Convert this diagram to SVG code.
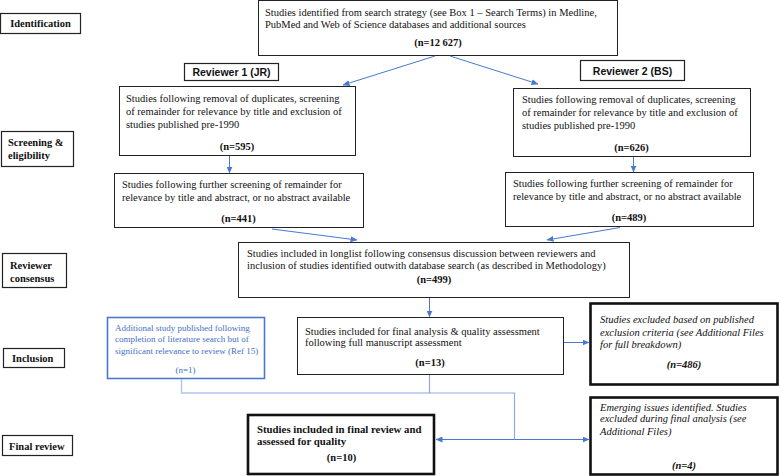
<svg xmlns="http://www.w3.org/2000/svg" width="779" height="476" viewBox="0 0 779 476">
<style>
.bx{fill:#fff;stroke:#222;stroke-width:1}
.bk{fill:#fff;stroke:#111;stroke-width:2.6}
.bl{fill:#fff;stroke:#4a78d0;stroke-width:1.6}
.lb{fill:#fff;stroke:#222;stroke-width:1.2}
.t{font-family:"Liberation Serif","Times New Roman",serif;font-size:10.5px;fill:#111}
.b{font-weight:bold}
.i{font-style:italic}
.c{text-anchor:middle}
.tb{font-family:"Liberation Serif","Times New Roman",serif;font-size:9px;fill:#3f6fc9}
.rv{font-family:"Liberation Sans",Arial,sans-serif;font-size:10.5px;font-weight:bold;fill:#111}
.cn{fill:none;stroke:#4a78d0;stroke-width:1}
.cl{fill:none;stroke:#8eaae2;stroke-width:1.2}
.cx{fill:none;stroke:#b0c4ec;stroke-width:1.4}
</style>
<defs>
<marker id="ah" markerWidth="7" markerHeight="6" refX="6.5" refY="3" orient="auto" markerUnits="userSpaceOnUse">
<path d="M0,0 L7,3 L0,6 z" fill="#4a78d0"/>
</marker>
</defs>

<g id="stage-identification"><rect class="lb" x="0.5" y="13.5" width="80" height="20"/><text class="t b c" x="40.5" y="27">Identification</text></g>
<g id="stage-screening"><rect class="lb" x="1.5" y="131.5" width="72" height="35"/><text class="t b" x="8" y="145.5">Screening &amp;</text><text class="t b" x="8" y="158.5">eligibility</text></g>
<g id="stage-consensus"><rect class="lb" x="2.5" y="253.5" width="64" height="34"/><text class="t b" x="10" y="268.5">Reviewer</text><text class="t b" x="10" y="281.5">consensus</text></g>
<g id="stage-inclusion"><rect class="lb" x="3.5" y="348.5" width="61" height="19"/><text class="t b" x="12" y="361.5">Inclusion</text></g>
<g id="stage-final"><rect class="lb" x="2.5" y="435.5" width="70" height="20"/><text class="t b" x="9" y="449.5">Final review</text></g>

<g id="reviewer1"><rect class="lb" x="184.5" y="63.5" width="94" height="17"/><text class="rv c" x="231.5" y="76">Reviewer 1 (JR)</text></g>
<g id="reviewer2"><rect class="lb" x="580.5" y="60.5" width="104" height="20"/><text class="rv c" x="632.5" y="74.5">Reviewer 2 (BS)</text></g>

<g id="n-search"><rect class="bx" x="258.5" y="0.5" width="359" height="55"/>
<text class="t" x="265" y="16">Studies identified from search strategy (see Box 1 – Search Terms) in Medline,</text>
<text class="t" x="265" y="28">PubMed and Web of Science databases and additional sources</text>
<text class="t b c" x="438" y="46">(n=12 627)</text></g>

<g id="n-r1-screen"><rect class="bx" x="119.5" y="86.5" width="236" height="69"/>
<text class="t" x="126" y="102">Studies following removal of duplicates, screening</text>
<text class="t" x="126" y="114.5">of remainder for relevance by title and exclusion of</text>
<text class="t" x="126" y="127.5">studies published pre-1990</text>
<text class="t b c" x="237" y="150">(n=595)</text></g>

<g id="n-r2-screen"><rect class="bx" x="513.5" y="88.5" width="237" height="68"/>
<text class="t" x="522" y="103">Studies following removal of duplicates, screening</text>
<text class="t" x="522" y="116">of remainder for relevance by title and exclusion of</text>
<text class="t" x="522" y="129">studies published pre-1990</text>
<text class="t b c" x="631.5" y="151">(n=626)</text></g>

<g id="n-r1-abstract"><rect class="bx" x="114.5" y="173.5" width="249" height="54"/>
<text class="t" x="122" y="188">Studies following further screening of remainder for</text>
<text class="t" x="122" y="201">relevance by title and abstract, or no abstract available</text>
<text class="t b c" x="238.5" y="222">(n=441)</text></g>

<g id="n-r2-abstract"><rect class="bx" x="505.5" y="172.5" width="248" height="54"/>
<text class="t" x="513" y="187">Studies following further screening of remainder for</text>
<text class="t" x="513" y="200">relevance by title and abstract, or no abstract available</text>
<text class="t b c" x="629" y="221">(n=489)</text></g>

<g id="n-consensus"><rect class="bx" x="238.5" y="242.5" width="391" height="55"/>
<text class="t" x="247" y="256.5">Studies included in longlist following consensus discussion between reviewers and</text>
<text class="t" x="247" y="268.5">inclusion of studies identified outwith database search (as described in Methodology)</text>
<text class="t b c" x="434" y="282.5">(n=499)</text></g>

<g id="n-additional"><rect class="bl" x="107.5" y="317.5" width="157" height="61"/>
<text class="tb" x="115" y="331">Additional study published following</text>
<text class="tb" x="115" y="342">completion of literature search but of</text>
<text class="tb" x="115" y="354">significant relevance to review (Ref 15)</text>
<text class="tb c" x="185.5" y="373">(n=1)</text></g>

<g id="n-fulltext"><rect class="bx" x="297.5" y="317.5" width="266" height="57"/>
<text class="t" x="305" y="334.5">Studies included for final analysis &amp; quality assessment</text>
<text class="t" x="305" y="345.5">following full manuscript assessment</text>
<text class="t b c" x="430" y="366">(n=13)</text></g>

<g id="n-excluded"><rect class="bk" x="590.5" y="303.5" width="187" height="81"/>
<text class="t i" x="600" y="322.5">Studies excluded based on published</text>
<text class="t i" x="600" y="335.5">exclusion criteria (see Additional Files</text>
<text class="t i" x="600" y="347.5">for full breakdown)</text>
<text class="t b i c" x="684" y="367.5">(n=486)</text></g>

<g id="n-final"><rect class="bk" x="248" y="415" width="186" height="59"/>
<text class="t b" x="257" y="432.5" style="font-size:10.8px">Studies included in final review and</text>
<text class="t b" x="257" y="444.5" style="font-size:10.8px">assessed for quality</text>
<text class="t b c" x="341.5" y="460.5">(n=10)</text></g>

<g id="n-emerging"><rect class="bk" x="590.5" y="397.5" width="187" height="77"/>
<text class="t i" x="600" y="410.5">Emerging issues identified. Studies</text>
<text class="t i" x="600" y="421.5">excluded during final analysis (see</text>
<text class="t i" x="600" y="434.5">Additional Files)</text>
<text class="t b i c" x="684" y="468.5">(n=4)</text></g>

<g id="connectors">
<line class="cn" x1="435" y1="56" x2="343" y2="85" marker-end="url(#ah)"/>
<line class="cn" x1="450" y1="56" x2="538" y2="84" marker-end="url(#ah)"/>
<line class="cn" x1="229.5" y1="156" x2="229.5" y2="173" marker-end="url(#ah)"/>
<line class="cn" x1="633.5" y1="157" x2="633.5" y2="172" marker-end="url(#ah)"/>
<line class="cn" x1="272" y1="229" x2="357" y2="240" marker-end="url(#ah)"/>
<line class="cn" x1="620" y1="227.5" x2="547" y2="240" marker-end="url(#ah)"/>
<line class="cn" x1="429.5" y1="298" x2="429.5" y2="317" marker-end="url(#ah)"/>
<line class="cn" x1="564" y1="342.5" x2="589" y2="342.5" marker-end="url(#ah)"/>
<polyline class="cx" points="181.5,379 181.5,393 429.5,393"/>
<polyline class="cl" points="429.5,375 429.5,393 514.5,393 514.5,439.5"/>
<line class="cn" x1="514.5" y1="439.5" x2="436" y2="439.5" marker-end="url(#ah)"/>
<line class="cn" x1="514.5" y1="439.5" x2="589" y2="439.5" marker-end="url(#ah)"/>
</g>
</svg>
